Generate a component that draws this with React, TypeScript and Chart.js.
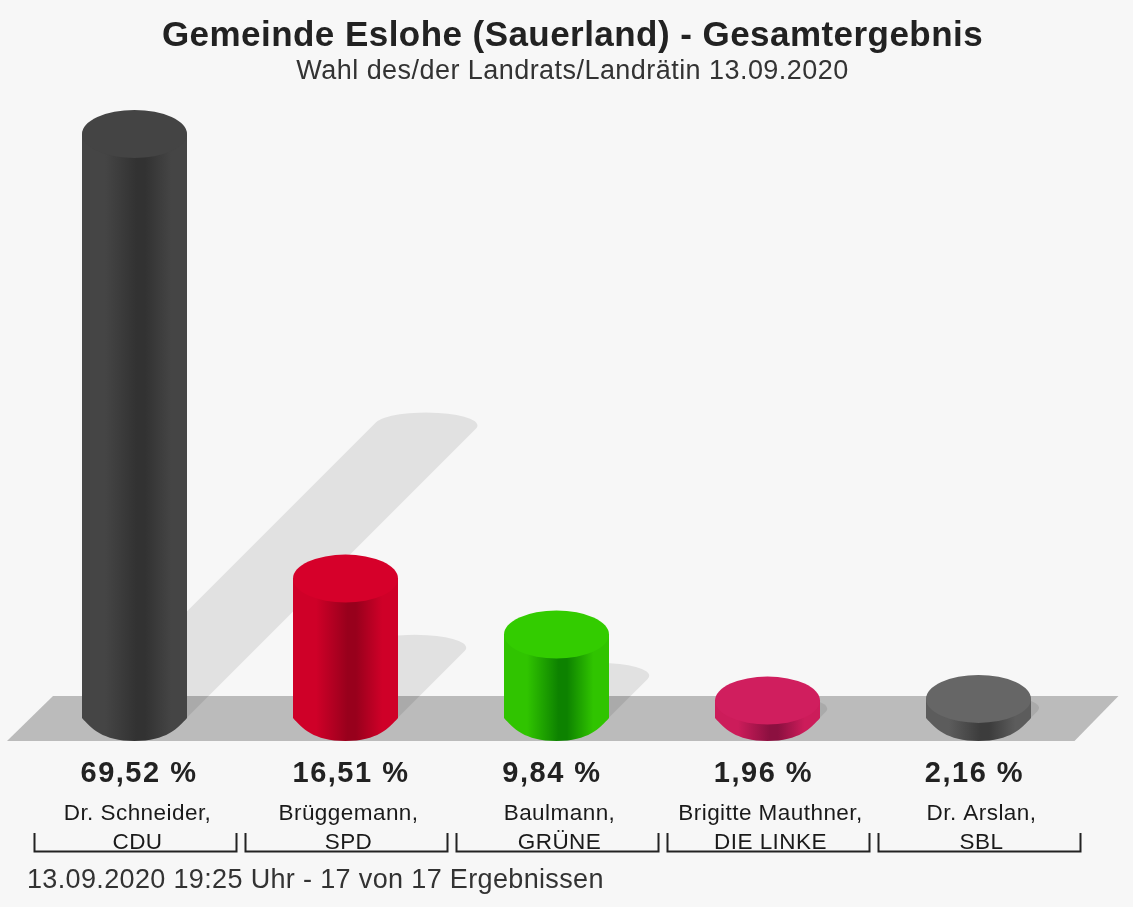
import React, { useEffect, useRef } from "react";
import { Chart, registerables } from "chart.js";

Chart.register(...registerables);

const titleText = "Gemeinde Eslohe (Sauerland) - Gesamtergebnis";
const subtitleText = "Wahl des/der Landrats/Landrätin 13.09.2020";
const footerText = "13.09.2020 19:25 Uhr - 17 von 17 Ergebnissen";
const categories = [
  ["Dr. Schneider,", "CDU"],
  ["Brüggemann,", "SPD"],
  ["Baulmann,", "GRÜNE"],
  ["Brigitte Mauthner,", "DIE LINKE"],
  ["Dr. Arslan,", "SBL"],
];
const values = [69.52, 16.51, 9.84, 1.96, 2.16];
const capColors = ["#444444", "#d6002a", "#33cc00", "#d01e5e", "#666666"];
const edgeColors = ["#454545", "#cf0028", "#30c400", "#cc1c5a", "#5c5c5c"];
const coreColors = ["#323232", "#98001c", "#0d8200", "#8c1040", "#3c3c3c"];
const percentNudge = [4.5, 5.5, -4.5, -4, -4];

const FONT = '"Liberation Sans", Arial, sans-serif';
const CAP_RY = 24;
const SHADOW_RY = 13;

function ellipsePath(ctx: CanvasRenderingContext2D, x: number, y: number, rx: number, ry: number) {
  ctx.beginPath();
  ctx.ellipse(x, y, rx, ry, 0, 0, Math.PI * 2);
}

const cylinderPlugin = {
  id: "cylinders",
  beforeDraw(chart: any) {
    const { ctx, width, height } = chart;
    ctx.save();
    ctx.fillStyle = "#f7f7f7";
    ctx.fillRect(0, 0, width, height);
    ctx.restore();
    (ctx as any).letterSpacing = "0.45px";
  },
  beforeDatasetsDraw(chart: any) {
    const { ctx, chartArea } = chart;
    const meta = chart.getDatasetMeta(0);
    const base = chartArea.bottom;
    ctx.save();
    ctx.filter = "blur(0.6px)";
    ctx.fillStyle = "#bbbbbb";
    ctx.beginPath();
    ctx.moveTo(7, base + CAP_RY);
    ctx.lineTo(53, base - 21);
    ctx.lineTo(1118.5, base - 21);
    ctx.lineTo(1074.5, base + CAP_RY);
    ctx.closePath();
    ctx.fill();
    ctx.fillStyle = "rgba(0,0,0,0.085)";
    meta.data.forEach((bar: any) => {
      const h = base - bar.y;
      const rx = bar.width / 2 - 1;
      const ry = SHADOW_RY;
      const d = Math.sqrt(rx * rx + ry * ry);
      const tx = (rx * rx) / d;
      const ty = (ry * ry) / d;
      const topX = bar.x + h / 2;
      const topY = base - h / 2;
      const a = Math.atan2(ty / ry, tx / rx);
      ctx.beginPath();
      ctx.ellipse(bar.x, base, rx, ry, 0, Math.PI + a, a, true);
      ctx.ellipse(topX, topY, rx, ry, 0, a, Math.PI + a, true);
      ctx.closePath();
      ctx.fill();
    });
    ctx.restore();
  },
  afterDatasetsDraw(chart: any) {
    const { ctx, chartArea, scales } = chart;
    const meta = chart.getDatasetMeta(0);
    const base = chartArea.bottom;
    ctx.save();
    ctx.filter = "blur(0.6px)";
    meta.data.forEach((bar: any, i: number) => {
      const rx = bar.width / 2;
      const left = bar.x - rx;
      const right = bar.x + rx;
      const grad = ctx.createLinearGradient(left, 0, right, 0);
      grad.addColorStop(0, edgeColors[i]);
      grad.addColorStop(0.22, edgeColors[i]);
      grad.addColorStop(0.52, coreColors[i]);
      grad.addColorStop(0.6, coreColors[i]);
      grad.addColorStop(0.85, edgeColors[i]);
      grad.addColorStop(1, edgeColors[i]);
      ctx.fillStyle = grad;
      ctx.beginPath();
      ctx.moveTo(left, bar.y);
      ctx.lineTo(left, base + 1);
      ctx.bezierCurveTo(left + 9, base + 11, bar.x - 32, base + CAP_RY, bar.x, base + CAP_RY);
      ctx.bezierCurveTo(bar.x + 32, base + CAP_RY, right - 9, base + 11, right, base + 1);
      ctx.lineTo(right, bar.y);
      ctx.closePath();
      ctx.fill();
      ctx.fillStyle = capColors[i];
      ellipsePath(ctx, bar.x, bar.y, rx, CAP_RY);
      ctx.fill();
    });
    ctx.restore();

    ctx.save();
    ctx.textAlign = "center";
    ctx.textBaseline = "middle";
    ctx.fillStyle = "#222222";
    ctx.font = `bold 29px ${FONT}`;
    (ctx as any).letterSpacing = "1.5px";
    values.forEach((v, i) => {
      const label = `${v.toFixed(2).replace(".", ",")} %`;
      ctx.fillText(label, scales.x.getPixelForTick(i) + percentNudge[i], 774);
    });
    ctx.strokeStyle = "#222222";
    ctx.lineWidth = 2;
    categories.forEach((_, i) => {
      const cx = scales.x.getPixelForTick(i) + 1;
      ctx.beginPath();
      ctx.moveTo(cx - 101, 833);
      ctx.lineTo(cx - 101, 851.5);
      ctx.lineTo(cx + 101, 851.5);
      ctx.lineTo(cx + 101, 833);
      ctx.stroke();
    });
    ctx.textAlign = "left";
    ctx.fillStyle = "#333333";
    ctx.font = `27px ${FONT}`;
    (ctx as any).letterSpacing = "0.35px";
    ctx.fillText(footerText, 27, 881);
    ctx.restore();
  },
};

export default function App() {
  const ref = useRef<HTMLCanvasElement>(null);
  useEffect(() => {
    document.body.style.margin = "0";
    const chart = new Chart(ref.current as HTMLCanvasElement, {
      type: "bar",
      data: {
        labels: categories,
        datasets: [
          {
            data: values,
            backgroundColor: edgeColors,
            borderWidth: 0,
            barPercentage: 105 / 211,
            categoryPercentage: 1,
          },
        ],
      },
      options: {
        responsive: false,
        animation: false,
        layout: { padding: { left: 29, right: 17, top: 0, bottom: 0 } },
        plugins: {
          legend: { display: false },
          tooltip: { enabled: false },
          title: {
            display: true,
            text: titleText,
            color: "#222222",
            font: { family: FONT, size: 35, weight: "bold", lineHeight: 1 },
            padding: { top: 18.5, bottom: 0 },
          },
          subtitle: {
            display: true,
            text: subtitleText,
            color: "#333333",
            font: { family: FONT, size: 27, lineHeight: 1.2 },
            padding: { top: 2.3, bottom: 41.8 },
          },
        },
        scales: {
          x: {
            grid: { display: false, drawTicks: false },
            border: { display: false },
            afterFit: (s: any) => {
              s.height = 190;
              s.paddingLeft = 0;
              s.paddingRight = 0;
            },
            ticks: {
              autoSkip: false,
              maxRotation: 0,
              minRotation: 0,
              padding: 82.5,
              labelOffset: 3,
              color: "#1a1a1a",
              font: { family: FONT, size: 22.5, lineHeight: 1.29 },
            },
          },
          y: {
            display: false,
            min: 0,
            max: 70,
          },
          y2: {
            position: "right",
            grid: { display: false, drawTicks: false },
            border: { display: false },
            ticks: { display: false },
            afterFit: (s: any) => {
              s.width = 32;
            },
          },
        },
      },
      plugins: [cylinderPlugin],
    } as any);
    return () => chart.destroy();
  }, []);
  return <canvas ref={ref} width={1133} height={907} style={{ display: "block" }} />;
}
